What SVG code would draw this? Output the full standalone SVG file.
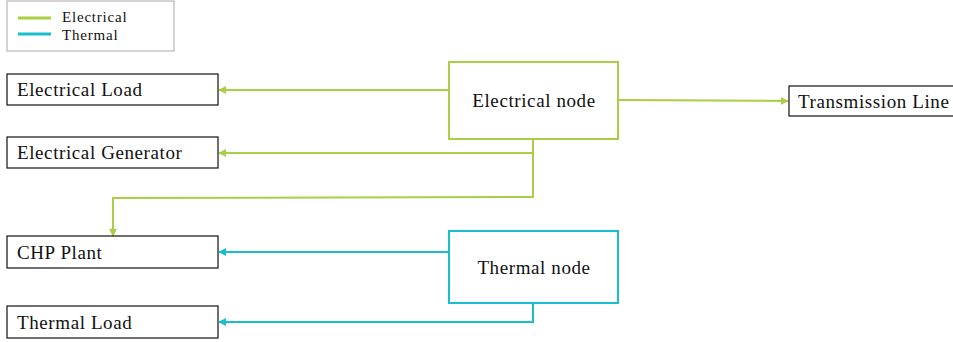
<svg xmlns="http://www.w3.org/2000/svg" width="953" height="342" viewBox="0 0 953 342">
<style>
text{font-family:"Liberation Serif","DejaVu Serif",serif;fill:#111}
.box{fill:#fff;stroke:#111;stroke-width:1.2}
.lbl{font-size:19px;letter-spacing:0.6px}
.el{stroke:#a8cf45;stroke-width:2;fill:none}
.th{stroke:#17becf;stroke-width:2;fill:none}
.elbox{fill:#fff;stroke:#a8cf45;stroke-width:2}
.thbox{fill:#fff;stroke:#17becf;stroke-width:2}
</style>
<defs>
<marker id="ag" viewBox="0 0 10 10" refX="9" refY="5" markerWidth="4" markerHeight="4" orient="auto"><path d="M0,0L10,5L0,10z" fill="#a8cf45"/></marker>
<marker id="at" viewBox="0 0 10 10" refX="9" refY="5" markerWidth="4" markerHeight="4" orient="auto"><path d="M0,0L10,5L0,10z" fill="#17becf"/></marker>
</defs>
<g id="legend">
<rect x="7" y="1" width="167" height="50" fill="#fff" stroke="#aaa" stroke-width="1"/>
<line x1="18" y1="18" x2="51" y2="18" stroke="#a8cf45" stroke-width="3"/>
<line x1="18" y1="34" x2="51" y2="34" stroke="#17becf" stroke-width="3"/>
<text x="62" y="22" font-size="15" letter-spacing="0.8">Electrical</text>
<text x="62" y="40" font-size="15" letter-spacing="0.8">Thermal</text>
</g>
<g id="connectors">
<line x1="449" y1="90" x2="219" y2="90" class="el" marker-end="url(#ag)"/>
<polyline points="533,139 533,153 219,153" class="el" marker-end="url(#ag)"/>
<polyline points="533,153 533,197 113,198 113,236" class="el" marker-end="url(#ag)"/>
<line x1="618" y1="100" x2="788" y2="101" class="el" marker-end="url(#ag)"/>
<line x1="449" y1="252" x2="219" y2="252" class="th" marker-end="url(#at)"/>
<polyline points="533,303 533,322 219,322" class="th" marker-end="url(#at)"/>
</g>
<g id="electrical-load"><rect x="7" y="74" width="211" height="31" class="box"/><text x="17" y="96" class="lbl">Electrical Load</text></g>
<g id="electrical-generator"><rect x="7" y="137" width="211" height="31" class="box"/><text x="17" y="159" class="lbl">Electrical Generator</text></g>
<g id="chp-plant"><rect x="7" y="236" width="211" height="32" class="box"/><text x="17" y="259" class="lbl">CHP Plant</text></g>
<g id="thermal-load"><rect x="7" y="306" width="211" height="32" class="box"/><text x="17" y="329" class="lbl">Thermal Load</text></g>
<g id="electrical-node"><rect x="449" y="62" width="169" height="77" class="elbox"/><text x="534" y="107" text-anchor="middle" class="lbl">Electrical node</text></g>
<g id="thermal-node"><rect x="449" y="231" width="169" height="72" class="thbox"/><text x="534" y="274" text-anchor="middle" class="lbl">Thermal node</text></g>
<g id="transmission-line"><rect x="789" y="86" width="170" height="30" class="box"/><text x="798" y="108" class="lbl">Transmission Line</text></g>
</svg>
